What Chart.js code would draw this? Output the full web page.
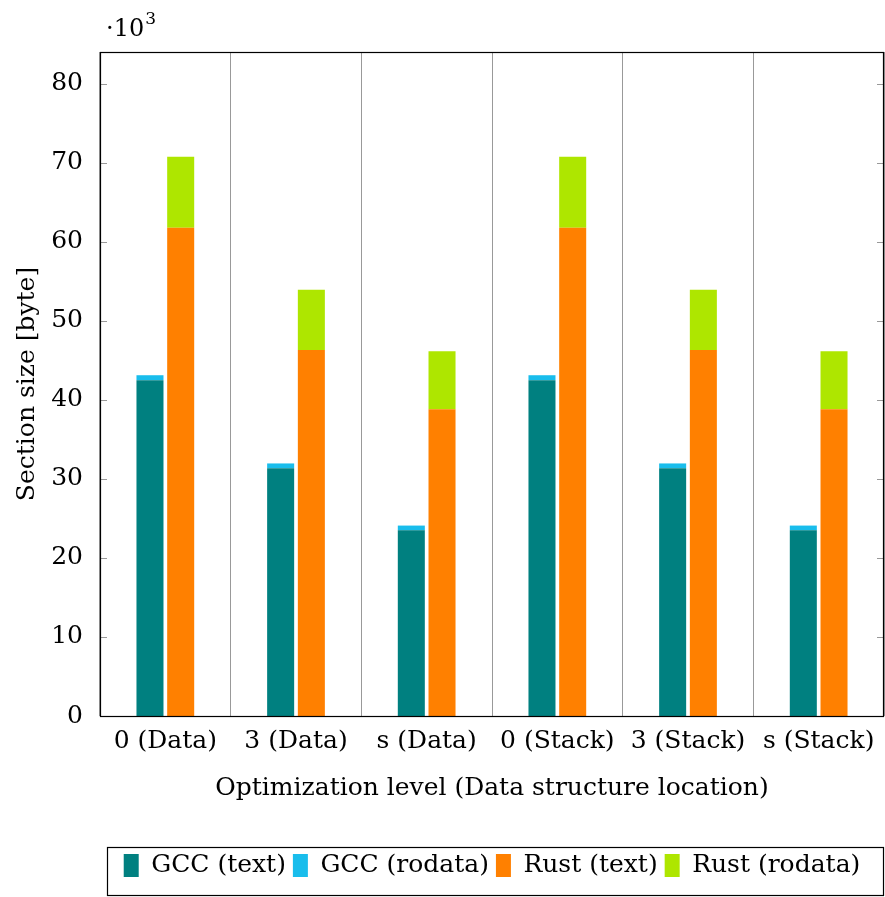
<!DOCTYPE html>
<html>
<head>
<meta charset="utf-8">
<script src="https://cdn.jsdelivr.net/npm/chart.js@4.4.1/dist/chart.umd.min.js"></script>
<style>
  html, body { margin: 0; padding: 0; background: #fff; }
  #wrap { width: 885px; height: 897px; }
</style>
</head>
<body>
<div id="wrap"><canvas id="chart"></canvas></div>
<script>
// x categories: optimization level (data structure location)
const categories = ['0 (Data)', '3 (Data)', 's (Data)', '0 (Stack)', '3 (Stack)', 's (Stack)'];

// section sizes in bytes
const gccText    = [42480, 31350, 23490, 42480, 31350, 23490];
const gccRodata  = [630, 600, 600, 630, 600, 600];
const rustText   = [61780, 46310, 38800, 61780, 46310, 38800];
const rustRodata = [8960, 7610, 7350, 8960, 7610, 7350];

const yTicks = [0, 10000, 20000, 30000, 40000, 50000, 60000, 70000, 80000];

const FONT = "'DejaVu Serif', 'Liberation Serif', serif";
const FS = 25;

Chart.defaults.color = '#000';
Chart.defaults.font.family = FONT;

// frame, inner tick marks, the ·10^3 label and the legend box
const framePlugin = {
  id: 'frame',
  afterDraw(chart) {
    const { ctx, chartArea: a, scales } = chart;
    ctx.save();
    ctx.strokeStyle = '#999';
    ctx.lineWidth = 1;
    yTicks.forEach(v => {
      const y = Math.round(scales.y.getPixelForValue(v)) + 0.5;
      ctx.beginPath();
      ctx.moveTo(a.left, y); ctx.lineTo(a.left + 7, y);
      ctx.moveTo(a.right, y); ctx.lineTo(a.right - 7, y);
      ctx.stroke();
    });
    ctx.strokeStyle = '#000';
    ctx.lineWidth = 1.2;
    ctx.strokeRect(a.left + 0.5, a.top + 0.5, a.right - a.left - 1, a.bottom - a.top);

    ctx.fillStyle = '#000';
    ctx.textBaseline = 'alphabetic';
    ctx.font = '24px ' + FONT;
    ctx.fillText('\u00B710', a.left + 6, 36);
    const w = ctx.measureText('\u00B710').width;
    ctx.font = '17px ' + FONT;
    ctx.fillText('3', a.left + 7 + w, 24);

    const hb = chart.legend.legendHitBoxes;
    if (hb && hb.length) {
      const l = Math.min(...hb.map(h => h.left));
      const r = Math.max(...hb.map(h => h.left + h.width));
      const t = Math.min(...hb.map(h => h.top));
      ctx.strokeStyle = '#000';
      ctx.lineWidth = 1.2;
      ctx.strokeRect(Math.round(l - 17) + 0.5, Math.round(t - 6) + 0.5, Math.round(r - l + 39), 48);
    }
    ctx.restore();
  }
};

new Chart(document.getElementById('chart'), {
  type: 'bar',
  data: {
    labels: categories,
    datasets: [
      { label: 'GCC (text)',    data: gccText,    backgroundColor: '#008080', stack: 'gcc' },
      { label: 'GCC (rodata)',  data: gccRodata,  backgroundColor: '#19BDEC', stack: 'gcc' },
      { label: 'Rust (text)',   data: rustText,   backgroundColor: '#FF8000', stack: 'rust' },
      { label: 'Rust (rodata)', data: rustRodata, backgroundColor: '#AEE600', stack: 'rust' }
    ]
  },
  options: {
    responsive: true,
    maintainAspectRatio: false,
    animation: false,
    layout: { padding: { top: 52, right: 1, left: 0, bottom: 9 } },
    datasets: {
      bar: { categoryPercentage: 0.47, barPercentage: 0.88, borderWidth: 0 }
    },
    scales: {
      x: {
        stacked: true,
        grid: { display: true, offset: true, color: '#999', drawTicks: false, lineWidth: 1 },
        border: { display: false },
        ticks: { font: { size: FS }, padding: 10, maxRotation: 0 },
        title: {
          display: true,
          text: 'Optimization level (Data structure location)',
          font: { size: FS },
          padding: { top: 0, bottom: 43 }
        },
        afterFit(scale) { scale.height = 130; }
      },
      y: {
        stacked: true,
        min: 0,
        max: 84000,
        afterBuildTicks(scale) { scale.ticks = yTicks.map(v => ({ value: v })); },
        grid: { display: false },
        border: { display: false },
        ticks: {
          font: { size: FS },
          padding: 9,
          callback: v => String(v / 1000)
        },
        title: {
          display: true,
          text: 'Section size [byte]',
          font: { size: FS },
          padding: { top: 12, bottom: 0 }
        },
        afterFit(scale) { scale.width = 100; }
      }
    },
    plugins: {
      legend: {
        position: 'bottom',
        fullSize: false,
        labels: {
          boxWidth: 15,
          boxHeight: 23,
          padding: 7,
          font: { size: FS },
          color: '#000'
        }
      },
      tooltip: { enabled: false }
    }
  },
  plugins: [framePlugin]
});
</script>
</body>
</html>
